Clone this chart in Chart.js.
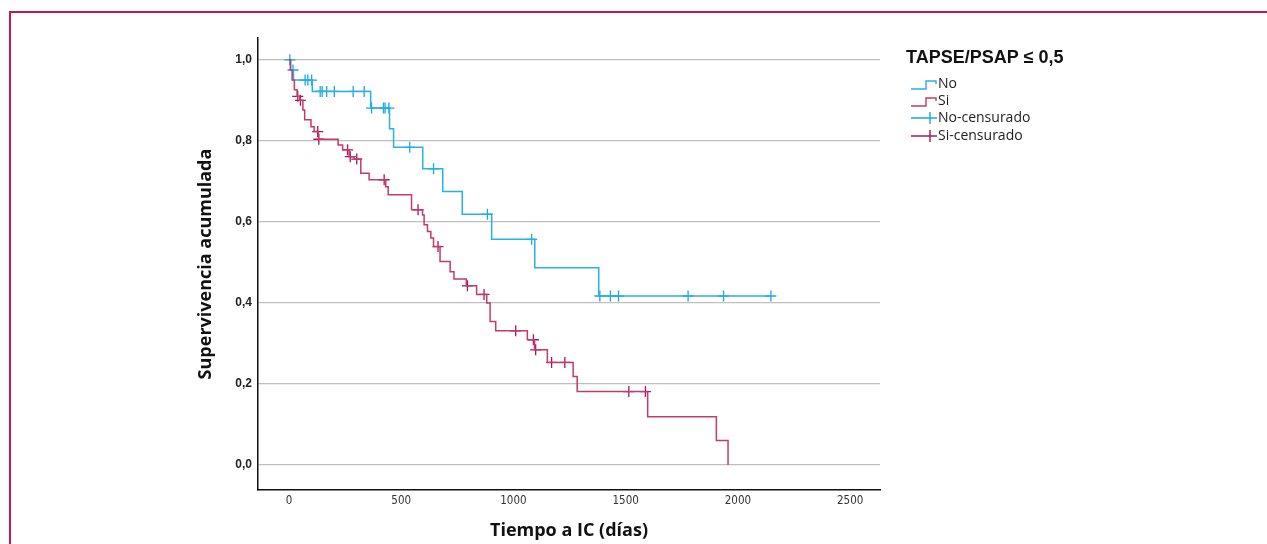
<!DOCTYPE html>
<html>
<head>
<meta charset="utf-8">
<script src="https://cdn.jsdelivr.net/npm/chart.js@4.4.1/dist/chart.umd.min.js"></script>
<style>
body { margin: 0; overflow: hidden; background: #fff; }
#marco { position: absolute; left: 9px; top: 11px; width: 1300px; height: 600px;
  border-top: 2px solid #c8174f; border-left: 2px solid #c8174f; }
#wrap { position: absolute; left: 0; top: 0; width: 1267px; height: 544px; }
</style>
</head>
<body>
<div id="marco"></div>
<div id="wrap"><canvas id="kmChart"></canvas></div>
<script>
// Curva "No" (TAPSE/PSAP > 0,5): tiempo del evento y supervivencia tras el escalón
const noTiempos = [0, 8, 20, 104, 364, 448, 466, 596, 685, 772, 903, 1095, 1380, 2147];
const noSuperv  = [1.0, 0.975, 0.95, 0.922, 0.881, 0.83, 0.784, 0.731, 0.675, 0.619, 0.557, 0.487, 0.417, 0.417];
const noCensuras = [4, 18, 72, 84, 101, 139, 148, 168, 202, 286, 335, 368, 421, 428, 445,
  538, 644, 884, 1081, 1385, 1432, 1468, 1778, 1936, 2147];

// Curva "Si"
const siTiempos = [0, 6, 14, 24, 36, 48, 62, 70, 98, 112, 131, 219, 239, 268, 291, 320, 357,
  431, 442, 546, 595, 602, 617, 632, 644, 673, 718, 735, 790, 836, 881, 896, 921, 1062, 1094,
  1151, 1266, 1284, 1598, 1904, 1956];
const siSuperv = [1.0, 0.975, 0.95, 0.926, 0.91, 0.90, 0.876, 0.852, 0.835, 0.823, 0.804, 0.79,
  0.778, 0.761, 0.755, 0.72, 0.704, 0.687, 0.667, 0.63, 0.617, 0.593, 0.576, 0.56, 0.539, 0.502,
  0.477, 0.459, 0.442, 0.421, 0.40, 0.354, 0.331, 0.309, 0.284, 0.253, 0.218, 0.181, 0.119, 0.06, 0.0];
const siCensuras = [39, 51, 128, 133, 261, 273, 302, 424, 575, 664, 795, 869, 1010, 1089, 1099,
  1170, 1229, 1514, 1588];

const xTicks = [0, 500, 1000, 1500, 2000, 2500];
const yTicks = [0, 0.2, 0.4, 0.6, 0.8, 1.0];

const tituloLeyenda = 'TAPSE/PSAP \u2264 0,5';
const etiquetas = ['No', 'Si', 'No-censurado', 'Si-censurado'];

const azul = '#27b1e4';
const rojo = '#c23a6e';
const azulCens = '#1ba8de';
const rojoCens = '#a8185a';

// nivel de la curva en el tiempo t (último escalón con tiempo <= t)
function nivel(tiempos, superv, t) {
  let v = superv[0];
  for (let i = 0; i < tiempos.length; i++) {
    if (tiempos[i] <= t) v = superv[i];
  }
  return v;
}

const noLinea = noTiempos.map((t, i) => ({ x: t, y: noSuperv[i] }));
const siLinea = siTiempos.map((t, i) => ({ x: t, y: siSuperv[i] }));
const noCens = noCensuras.map(t => ({ x: t, y: nivel(noTiempos, noSuperv, t) }));
const siCens = siCensuras.map(t => ({ x: t, y: nivel(siTiempos, siSuperv, t) }));

// Leyenda dibujada a mano, estilo SPSS
const leyendaPlugin = {
  id: 'leyendaKM',
  afterDraw(chart) {
    const ctx = chart.ctx;
    ctx.save();
    ctx.fillStyle = '#111';
    ctx.font = 'bold 18px "Liberation Sans", Arial, sans-serif';
    ctx.textBaseline = 'middle';
    ctx.textAlign = 'left';
    ctx.fillText(tituloLeyenda, 906, 58);

    const filas = [84, 101, 118, 136];
    const colores = [azul, rojo, azulCens, rojoCens];
    ctx.lineWidth = 1.4;
    filas.forEach((y, i) => {
      ctx.strokeStyle = colores[i];
      ctx.beginPath();
      if (i < 2) {
        ctx.moveTo(911, y + 5);
        ctx.lineTo(926, y + 5);
        ctx.lineTo(926, y - 3);
        ctx.lineTo(936, y - 3);
        ctx.lineTo(936, y);
      } else {
        ctx.moveTo(911, y);
        ctx.lineTo(937, y);
        ctx.moveTo(930, y - 6);
        ctx.lineTo(930, y + 6);
      }
      ctx.stroke();
      ctx.fillStyle = '#222';
      ctx.font = '14px "Open Sans", sans-serif';
      ctx.fillText(etiquetas[i], 938, y);
    });
    ctx.restore();
  }
};

const ctx = document.getElementById('kmChart').getContext('2d');
const kmChart = new Chart(ctx, {
  type: 'line',
  data: {
    datasets: [
      { label: 'Si', data: siLinea, borderColor: rojo, borderWidth: 1.5, stepped: true,
        pointRadius: 0, fill: false },
      { label: 'No', data: noLinea, borderColor: azul, borderWidth: 1.5, stepped: true,
        pointRadius: 0, fill: false },
      { type: 'scatter', label: 'Si-censurado', data: siCens, pointStyle: 'cross',
        pointRadius: 5.5, borderColor: rojoCens, borderWidth: 1.3, showLine: false },
      { type: 'scatter', label: 'No-censurado', data: noCens, pointStyle: 'cross',
        pointRadius: 5.5, borderColor: azulCens, borderWidth: 1.3, showLine: false }
    ]
  },
  options: {
    responsive: true,
    maintainAspectRatio: false,
    animation: false,
    layout: { padding: { left: 195, right: 387, top: 38, bottom: 0 } },
    plugins: {
      legend: { display: false },
      tooltip: { enabled: false }
    },
    scales: {
      x: {
        type: 'linear',
        min: -138,
        max: 2633,
        afterBuildTicks: (scale) => { scale.ticks = xTicks.map(v => ({ value: v })); },
        afterFit: (scale) => { scale.height = 54; },
        grid: { display: false, drawTicks: false },
        border: { display: true, color: '#111', width: 1.5 },
        ticks: {
          padding: 4,
          color: '#333',
          font: { family: '"DejaVu Sans Condensed", sans-serif', size: 11.5 },
          callback: (v) => String(v)
        },
        title: {
          display: true,
          text: 'Tiempo a IC (días)',
          color: '#111',
          padding: { top: 0, bottom: 2 },
          font: { family: '"Open Sans", sans-serif', size: 18, weight: 'bold' }
        }
      },
      y: {
        type: 'linear',
        min: -0.062,
        max: 1.054,
        afterBuildTicks: (scale) => { scale.ticks = yTicks.map(v => ({ value: v })); },
        afterFit: (scale) => { scale.width = 63; },
        grid: { color: '#bfbfbf', lineWidth: 1.3, drawTicks: false },
        border: { display: true, color: '#111', width: 1.5 },
        ticks: {
          padding: 6,
          color: '#222',
          font: { family: '"Liberation Sans", Arial, sans-serif', size: 12, weight: 'bold' },
          callback: (v) => v.toFixed(1).replace('.', ',')
        },
        title: {
          display: true,
          text: 'Supervivencia acumulada',
          color: '#111',
          padding: { top: 0, bottom: 0 },
          font: { family: '"Open Sans", sans-serif', size: 18, weight: 'bold' }
        }
      }
    }
  },
  plugins: [leyendaPlugin]
});
</script>
</body>
</html>
